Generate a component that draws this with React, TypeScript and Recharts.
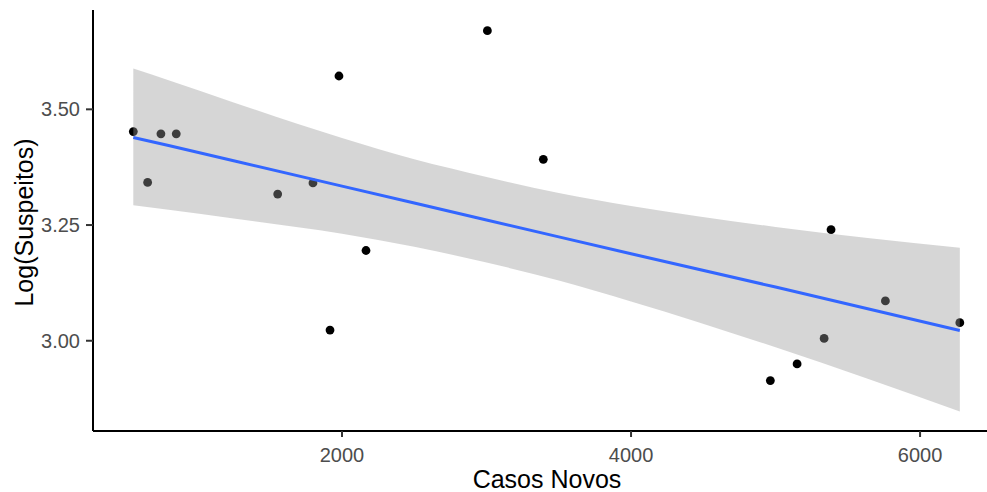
import React from 'react';
import { ComposedChart, Scatter, Area, Line, XAxis, YAxis, Label } from 'recharts';

// Observed points
const casosNovos = [556, 655, 747, 853, 1555, 1799, 1917, 1979, 2166, 3006, 3393, 4964, 5149, 5336, 5384, 5760, 6275];
const logSuspeitos = [3.452, 3.342, 3.447, 3.447, 3.317, 3.341, 3.023, 3.572, 3.195, 3.670, 3.392, 2.914, 2.950, 3.005, 3.240, 3.086, 3.039];

// Smoother
const smoothX = [556, 800, 1250, 2000, 2500, 3000, 3500, 4000, 5000, 6275];
const smoothFit = [3.439, 3.422, 3.389, 3.334, 3.2975, 3.261, 3.2245, 3.188, 3.116, 3.022];
const smoothUpper = [3.588, 3.563, 3.515, 3.438, 3.392, 3.354, 3.319, 3.291, 3.246, 3.201];
const smoothLower = [3.293, 3.283, 3.264, 3.231, 3.203, 3.169, 3.130, 3.085, 2.986, 2.847];

const xTicks = [2000, 4000, 6000];
const yTicks = [3.0, 3.25, 3.5];

const points = casosNovos.map((x, i) => ({ x, y: logSuspeitos[i] }));
const smooth = smoothX.map((x, i) => ({
  x,
  fit: smoothFit[i],
  band: [smoothLower[i], smoothUpper[i]],
}));

const FONT = '"Liberation Sans", Arial, sans-serif';

const Dot = (props: any) => <circle cx={props.cx} cy={props.cy} r={4.4} fill="#000000" />;

export default function App() {
  return (
    <div style={{ position: 'absolute', left: 0, top: 0, width: 987, height: 492, overflow: 'hidden', background: '#fff' }}>
      <ComposedChart
        width={1001}
        height={492}
        data={smooth}
        margin={{ top: 10, right: 0, bottom: 0, left: 0 }}
        style={{ fontFamily: FONT }}
      >
        <XAxis
          dataKey="x"
          type="number"
          domain={[277, 6560]}
          allowDataOverflow
          ticks={xTicks}
          height={61}
          tickSize={6}
          tickMargin={11}
          axisLine={{ stroke: '#000000', strokeWidth: 2 }}
          tickLine={{ stroke: '#333333', strokeWidth: 2 }}
          tick={{ fill: '#4D4D4D', fontSize: 20, fontFamily: FONT }}
        >
          <Label
            content={(p: any) => {
              const vb = p.viewBox || {};
              return (
                <text
                  x={vb.x + vb.width / 2}
                  y={488}
                  textAnchor="middle"
                  fontSize={25}
                  fill="#000000"
                  fontFamily={FONT}
                >
                  Casos Novos
                </text>
              );
            }}
          />
        </XAxis>
        <YAxis
          type="number"
          domain={[2.805, 3.7146]}
          allowDataOverflow
          ticks={yTicks}
          width={93}
          tickSize={7}
          tickMargin={6}
          tickFormatter={(v: number) => v.toFixed(2)}
          axisLine={{ stroke: '#000000', strokeWidth: 2 }}
          tickLine={{ stroke: '#333333', strokeWidth: 2 }}
          tick={{ fill: '#4D4D4D', fontSize: 20, fontFamily: FONT }}
        >
          <Label
            content={(p: any) => {
              const vb = p.viewBox || {};
              const cy = vb.y + vb.height / 2 + 2;
              return (
                <text
                  x={33}
                  y={cy}
                  transform={`rotate(-90, 33, ${cy})`}
                  textAnchor="middle"
                  fontSize={25}
                  fill="#000000"
                  fontFamily={FONT}
                >
                  Log(Suspeitos)
                </text>
              );
            }}
          />
        </YAxis>
        <Scatter
          data={points}
          dataKey="y"
          shape={Dot}
          isAnimationActive={false}
          zIndex={50}
        />
        <Area
          dataKey="band"
          type="monotone"
          fill="#999999"
          fillOpacity={0.4}
          stroke="none"
          isAnimationActive={false}
          activeDot={false}
          dot={false}
          zIndex={100}
        />
        <Line
          dataKey="fit"
          type="linear"
          stroke="#3366FF"
          strokeWidth={3}
          dot={false}
          activeDot={false}
          isAnimationActive={false}
          zIndex={400}
        />
      </ComposedChart>
    </div>
  );
}
